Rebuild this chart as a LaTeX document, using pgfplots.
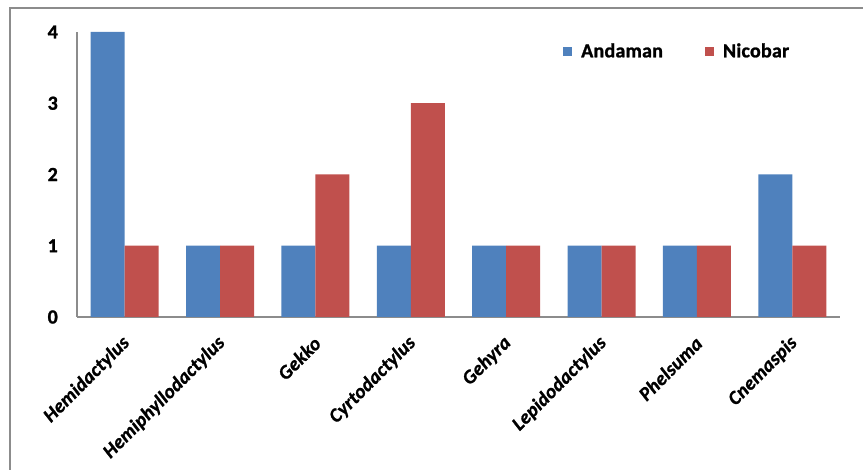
\documentclass[border=0pt]{standalone}
\usepackage{pgfplots}
\pgfplotsset{compat=1.18}
\usepackage{fontspec}
\setmainfont{Carlito}[LetterSpace=1.2, BoldFeatures={FakeBold=1.2}, BoldItalicFeatures={FakeBold=1.2}]
\definecolor{andaman}{HTML}{4F81BD}
\definecolor{nicobar}{HTML}{C0504D}
\definecolor{axgray}{HTML}{8C8C8C}
\begin{document}
\begin{tikzpicture}
\path[use as bounding box] (0pt,0pt) rectangle (863pt,470pt);
\draw[axgray, line width=1.3pt] (10pt,-20pt) -- (10pt,462pt) -- (900pt,462pt);
\begin{axis}[
  at={(77pt,153pt)}, anchor=south west,
  scale only axis, width=763pt, height=285pt,
  ybar=0pt, bar width=34pt,
  xmin=-0.5, xmax=7.5, ymin=0, ymax=4,
  axis x line*=bottom, axis y line*=left,
  axis line style={-, draw=axgray, line width=1.3pt},
  major tick length=0pt,
  xtick={0,...,7},
  xticklabels={Hemidactylus,Hemiphyllodactylus,Gekko,Cyrtodactylus,Gehyra,Lepidodactylus,Phelsuma,Cnemaspis},
  xticklabel style={font=\fontsize{19.5}{21}\selectfont\bfseries\itshape, inner sep=0pt, xshift=2pt, yshift=-23pt, rotate=45, anchor=east},
  ytick={0,1,2,3,4},
  yticklabel style={font=\fontsize{20}{22}\selectfont\bfseries, inner sep=0pt, xshift=-19pt},
  /pgf/number format/assume math mode=true,
  legend columns=2,
  legend style={draw=none, at={(0.633,0.933)}, anchor=west, font=\fontsize{20}{22}\selectfont\bfseries,
    /tikz/every odd column/.append style={column sep=7pt},
    /tikz/every even column/.append style={column sep=40pt}},
  legend image code/.code={\fill[#1] (0pt,-4.5pt) rectangle (9pt,4.5pt);},
]
\addplot[fill=andaman, draw=none] coordinates {(0,4) (1,1) (2,1) (3,1) (4,1) (5,1) (6,1) (7,2)};
\addplot[fill=nicobar, draw=none] coordinates {(0,1) (1,1) (2,2) (3,3) (4,1) (5,1) (6,1) (7,1)};
\legend{Andaman,Nicobar}
\end{axis}
\end{tikzpicture}
\end{document}
